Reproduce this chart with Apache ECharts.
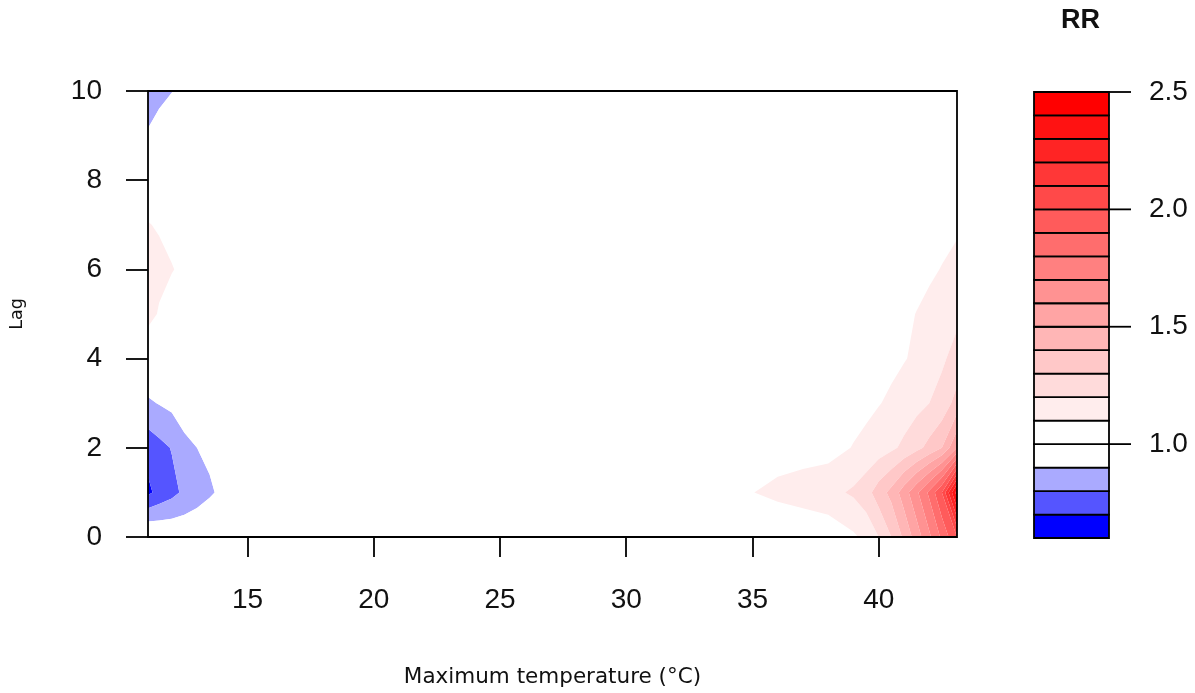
<!DOCTYPE html>
<html>
<head>
<meta charset="utf-8">
<script src="https://cdn.jsdelivr.net/npm/echarts@6/dist/echarts.min.js"></script>
<style>
  html, body { margin: 0; padding: 0; background: #ffffff; }
  #chart { width: 1195px; height: 693px; }
</style>
</head>
<body>
<div id="chart"></div>
<script>
// Grid of relative risk (RR) by maximum temperature (columns) and lag (rows)
const temperatures = [11.06, 11.5, 12, 12.5, 13, 13.5, 14, 15, 20, 25, 30, 34, 35, 36, 37, 38, 39, 39.5, 40, 40.5, 41, 41.5, 42, 42.5, 43.1];
const lags = [0, 1, 2, 3, 4, 5, 6, 7, 8, 9, 10];

const rrLag0  = [1.017, 1.0, 0.99, 0.98, 0.975, 0.975, 0.98, 0.99, 1.0, 1.0, 1.0, 1.0, 1.0, 1.005, 1.01, 1.03, 1.085, 1.125, 1.2, 1.3, 1.42, 1.55, 1.68, 1.82, 2.0];
const rrLag1  = [0.68, 0.729, 0.77, 0.82, 0.86, 0.89, 0.915, 0.95, 0.99, 1.0, 1.02, 1.08, 1.098, 1.125, 1.15, 1.17, 1.215, 1.26, 1.35, 1.43, 1.55, 1.68, 1.82, 2.0, 2.45];
const rrLag2  = [0.737, 0.77, 0.805, 0.882, 0.9, 0.915, 0.95, 0.97, 0.995, 1.0, 1.01, 1.03, 1.04, 1.054, 1.055, 1.062, 1.105, 1.125, 1.15, 1.18, 1.222, 1.27, 1.33, 1.4, 1.6];
const rrLag3  = [0.884, 0.905, 0.925, 0.935, 0.955, 0.97, 0.98, 0.99, 1.0, 1.0, 1.0, 1.02, 1.025, 1.03, 1.04, 1.049, 1.062, 1.078, 1.096, 1.115, 1.142, 1.171, 1.2, 1.236, 1.34];
const rrLag4  = [1.0, 1.0, 0.995, 0.99, 0.99, 0.99, 0.995, 1.0, 1.0, 1.0, 1.0, 1.01, 1.015, 1.02, 1.025, 1.035, 1.045, 1.055, 1.065, 1.08, 1.095, 1.115, 1.145, 1.185, 1.235];
const rrLag5  = [1.14, 1.09, 1.05, 1.025, 1.01, 1.0, 1.0, 1.0, 1.0, 1.0, 1.0, 1.01, 1.01, 1.015, 1.02, 1.03, 1.04, 1.045, 1.055, 1.07, 1.085, 1.102, 1.12, 1.145, 1.18];
const rrLag6  = [1.15, 1.13, 1.105, 1.08, 1.05, 1.03, 1.02, 1.01, 1.0, 1.0, 1.0, 1.005, 1.01, 1.01, 1.015, 1.02, 1.03, 1.035, 1.045, 1.055, 1.065, 1.075, 1.088, 1.103, 1.12];
const rrLag7  = [1.105, 1.09, 1.07, 1.05, 1.03, 1.02, 1.01, 1.0, 1.0, 1.0, 1.0, 1.0, 1.005, 1.01, 1.01, 1.015, 1.02, 1.025, 1.03, 1.04, 1.045, 1.055, 1.065, 1.075, 1.09];
const rrLag8  = [1.03, 1.02, 1.01, 1.0, 1.0, 1.0, 1.0, 1.0, 1.0, 1.0, 1.0, 1.0, 1.0, 1.005, 1.005, 1.01, 1.015, 1.015, 1.02, 1.025, 1.03, 1.035, 1.04, 1.05, 1.06];
const rrLag9  = [0.908, 0.93, 0.95, 0.97, 0.98, 0.99, 0.99, 1.0, 1.0, 1.0, 1.0, 1.0, 1.0, 1.0, 1.0, 1.005, 1.01, 1.01, 1.015, 1.015, 1.02, 1.025, 1.03, 1.035, 1.04];
const rrLag10 = [0.86, 0.88, 0.898, 0.92, 0.94, 0.96, 0.97, 0.98, 0.99, 1.0, 1.0, 1.0, 1.0, 1.0, 1.0, 1.0, 1.005, 1.005, 1.01, 1.01, 1.015, 1.02, 1.02, 1.025, 1.03];
const rrByLag = [rrLag0, rrLag1, rrLag2, rrLag3, rrLag4, rrLag5, rrLag6, rrLag7, rrLag8, rrLag9, rrLag10];

// Contour levels and the fill colour of each band between consecutive levels
const levels = [0.6, 0.7, 0.8, 0.9, 1.0, 1.1, 1.2, 1.3, 1.4, 1.5, 1.6, 1.7, 1.8, 1.9, 2.0, 2.1, 2.2, 2.3, 2.4, 2.5];
const bandColors = ['#0000FF', '#5555FF', '#AAAAFF', '#FFFFFF', '#FFFFFF', '#FFEDED', '#FFDBDB', '#FFC8C8',
  '#FFB6B6', '#FFA4A4', '#FF9292', '#FF8080', '#FF6D6D', '#FF5B5B', '#FF4949', '#FF3737', '#FF2424', '#FF1212', '#FF0000'];

const xTicks = [15, 20, 25, 30, 35, 40];
const keyTicks = [1.0, 1.5, 2.0, 2.5];

const ink = '#111111';
const tickFont = 'Liberation Sans';
const titleFont = 'DejaVu Sans';

// Keep the part of a polygon whose interpolated value is on one side of a level
function clipPolygon(poly, level, sign) {
  const out = [];
  const n = poly.length;
  for (let i = 0; i < n; i++) {
    const p = poly[i];
    const q = poly[(i + 1) % n];
    const pIn = sign * (p.v - level) >= 0;
    const qIn = sign * (q.v - level) >= 0;
    if (pIn !== qIn) {
      const t = (level - p.v) / (q.v - p.v);
      out.push({ x: p.x + t * (q.x - p.x), y: p.y + t * (q.y - p.y), v: level });
    }
    if (qIn) out.push(q);
  }
  return out;
}

// One filled path per band, built cell by cell from the RR grid
function renderBand(params, api) {
  const k = api.value(0);
  const lo = k === 0 ? -Infinity : levels[k];
  const hi = k === levels.length - 2 ? Infinity : levels[k + 1];
  let d = '';
  for (let j = 0; j < lags.length - 1; j++) {
    for (let i = 0; i < temperatures.length - 1; i++) {
      let poly = [
        { x: temperatures[i],     y: lags[j],     v: rrByLag[j][i] },
        { x: temperatures[i + 1], y: lags[j],     v: rrByLag[j][i + 1] },
        { x: temperatures[i + 1], y: lags[j + 1], v: rrByLag[j + 1][i + 1] },
        { x: temperatures[i],     y: lags[j + 1], v: rrByLag[j + 1][i] }
      ];
      if (lo > -Infinity) poly = clipPolygon(poly, lo, 1);
      if (poly.length >= 3 && hi < Infinity) poly = clipPolygon(poly, hi, -1);
      if (poly.length < 3) continue;
      poly.forEach(function (p, n) {
        const c = api.coord([p.x, p.y]);
        d += (n ? 'L' : 'M') + c[0].toFixed(2) + ' ' + c[1].toFixed(2);
      });
      d += 'Z';
    }
  }
  if (!d) return { type: 'group', children: [] };
  return { type: 'path', shape: { pathData: d }, style: { fill: bandColors[k] } };
}

// Colour key: one outlined box per band
function renderKey(params, api) {
  const k = api.value(0);
  const a = api.coord([0, levels[k]]);
  const b = api.coord([1, levels[k + 1]]);
  return {
    type: 'rect',
    shape: { x: a[0], y: b[1], width: b[0] - a[0], height: a[1] - b[1] },
    style: { fill: bandColors[k], stroke: '#000', lineWidth: 1.8 }
  };
}

// Tick marks on the right side of the colour key
function renderKeyTick(params, api) {
  const p = api.coord([1, api.value(0)]);
  return {
    type: 'line',
    shape: { x1: p[0], y1: p[1], x2: p[0] + 22, y2: p[1] },
    style: { stroke: '#000', lineWidth: 1.8 }
  };
}

const chart = echarts.init(document.getElementById('chart'), null, { renderer: 'canvas' });

chart.setOption({
  animation: false,
  backgroundColor: '#ffffff',
  title: {
    text: 'RR',
    left: 1056,
    top: 2,
    textStyle: { fontFamily: tickFont, fontSize: 27, fontWeight: 'bold', color: ink }
  },
  grid: [
    { left: 147, right: 238, top: 91, bottom: 155, show: true, z: 10,
      borderColor: '#000', borderWidth: 1.8, backgroundColor: 'transparent' },
    { left: 1034, right: 86, top: 92, bottom: 155 }
  ],
  xAxis: [
    {
      gridIndex: 0, type: 'value', min: 11.06, max: 43.1,
      name: 'Maximum temperature (°C)', nameLocation: 'middle', nameGap: 129,
      nameTextStyle: { fontFamily: titleFont, fontSize: 21.5, color: ink },
      axisLine: { show: false },
      axisTick: { show: true, inside: false, length: 20, customValues: xTicks,
        lineStyle: { color: '#000', width: 1.8 } },
      axisLabel: { customValues: xTicks, margin: 49, fontFamily: tickFont, fontSize: 28, color: ink },
      splitLine: { show: false }
    },
    { gridIndex: 1, type: 'value', min: 0, max: 1, show: false }
  ],
  yAxis: [
    {
      gridIndex: 0, type: 'value', min: 0, max: 10, interval: 2,
      name: 'Lag', nameLocation: 'middle', nameGap: 122,
      nameTextStyle: { fontFamily: titleFont, fontSize: 17.5, color: ink },
      axisLine: { show: false },
      axisTick: { show: true, inside: false, length: 22, lineStyle: { color: '#000', width: 1.8 } },
      axisLabel: { margin: 46, fontFamily: tickFont, fontSize: 28, color: ink },
      splitLine: { show: false }
    },
    {
      gridIndex: 1, type: 'value', min: 0.6, max: 2.5, position: 'right',
      axisLine: { show: false },
      axisTick: { show: false },
      axisLabel: { customValues: keyTicks, margin: 40, fontFamily: tickFont, fontSize: 28, color: ink,
        formatter: function (v) { return Number(v).toFixed(1); } },
      splitLine: { show: false }
    }
  ],
  series: [
    {
      type: 'custom', xAxisIndex: 0, yAxisIndex: 0, silent: true, clip: true, z: 2,
      encode: { x: 1, y: 2 },
      data: bandColors.map(function (c, k) { return [k, 27, 5]; }),
      renderItem: renderBand
    },
    {
      type: 'custom', xAxisIndex: 1, yAxisIndex: 1, silent: true, z: 2,
      encode: { x: 1, y: 2 },
      data: bandColors.map(function (c, k) { return [k, 0.5, 1.5]; }),
      renderItem: renderKey
    },
    {
      type: 'custom', xAxisIndex: 1, yAxisIndex: 1, silent: true, z: 3,
      encode: { x: 1, y: 0 },
      data: keyTicks.map(function (v) { return [v, 1]; }),
      renderItem: renderKeyTick
    }
  ]
});
</script>
</body>
</html>
